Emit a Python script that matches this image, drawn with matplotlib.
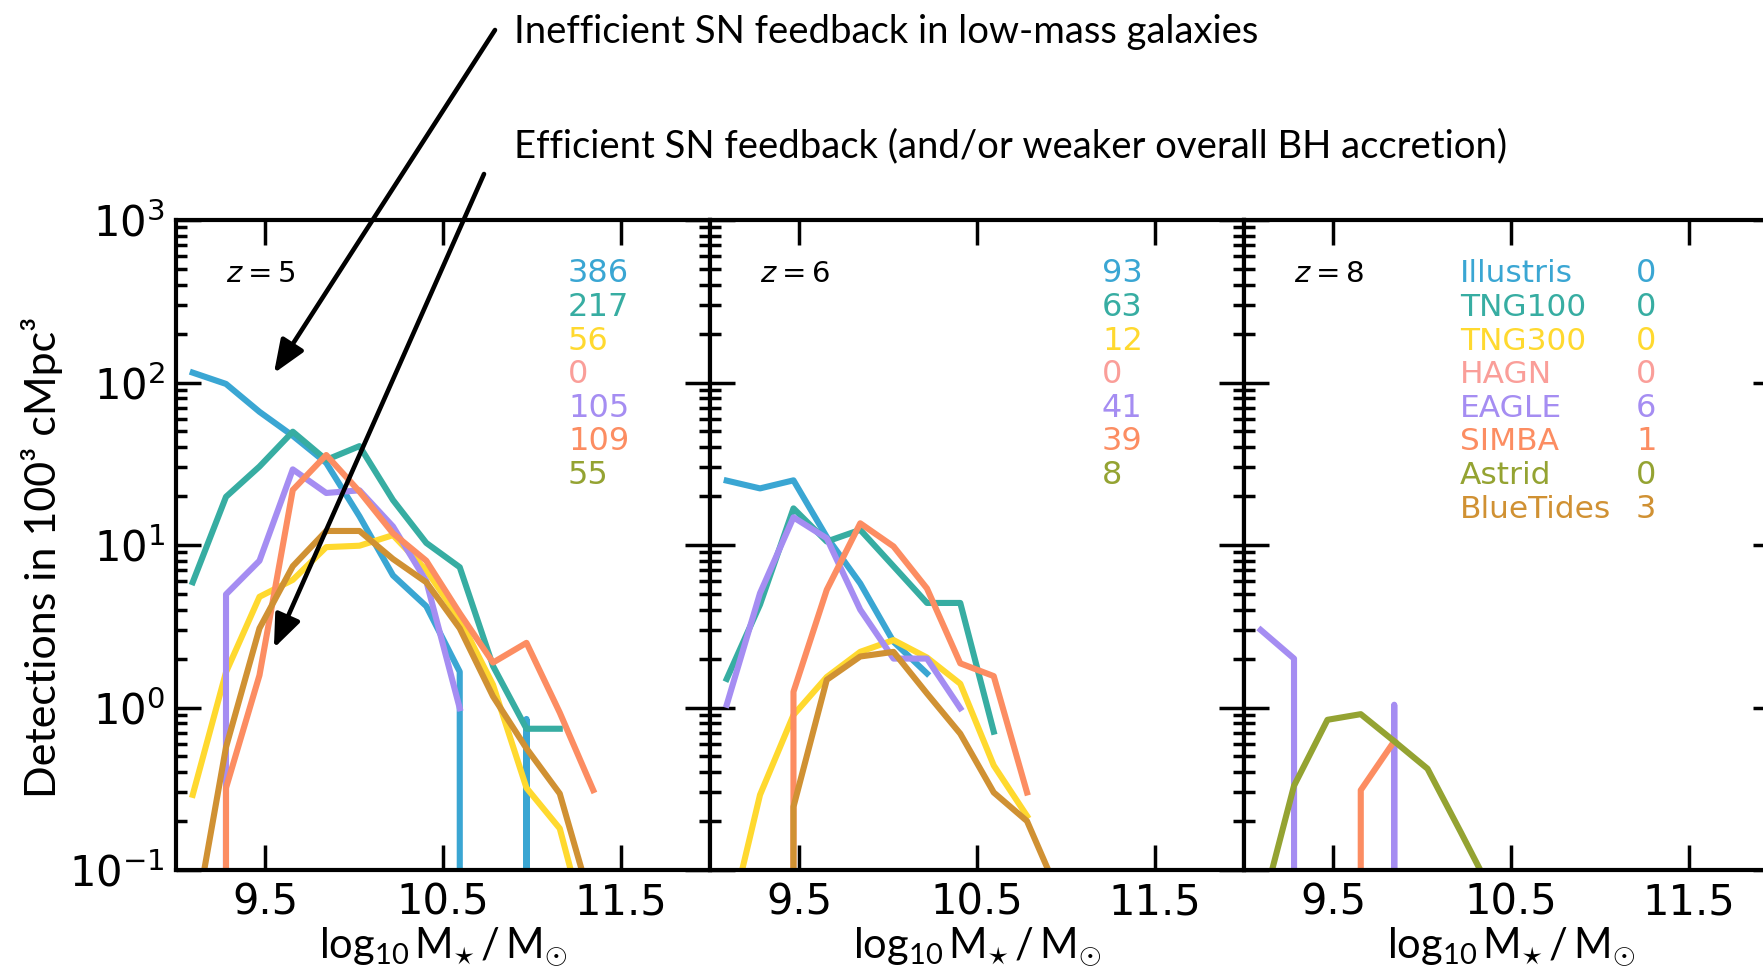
import numpy as np
import matplotlib
matplotlib.use("Agg")
import matplotlib.pyplot as plt
from matplotlib.ticker import LogLocator, NullFormatter, FixedLocator, FixedFormatter

nan = np.nan

# ---------------- data ----------------
sims = ["Illustris", "TNG100", "TNG300", "HAGN", "EAGLE", "SIMBA", "Astrid", "BlueTides"]
colors = ["#3AA6D3", "#37ADA2", "#FFD92F", "#FA9E99", "#A58DF2", "#FC8D62", "#94A332", "#D09133"]

logm = [9.094, 9.281, 9.469, 9.656, 9.844, 10.031, 10.219, 10.406, 10.594, 10.781, 10.969, 11.156, 11.344]

# z = 5
z5_illustris = [115, 98, 66, 47, 32, 15, 6.5, 4.2, 1.66, 0, 0.85, 0, nan]
z5_tng100 = [5.9, 19.8, 30.4, 49.8, 33.4, 40.6, 18.9, 10.3, 7.3, 1.8, 0.74, 0.74, nan]
z5_tng300 = [0.29, 1.65, 4.8, 6.1, 9.7, 9.9, 11.5, 7.0, 3.5, 1.38, 0.32, 0.18, 0.03]
z5_eagle = [0, 4.97, 8.0, 29.2, 20.9, 21.7, 13.0, 6.0, 0.99, nan, nan, nan, nan]
z5_simba = [0, 0.32, 1.58, 21.8, 35.8, 21.3, 11.8, 8.0, 3.8, 1.89, 2.5, 0.93, 0.31]
z5_bluetides = [0.04, 0.57, 3.07, 7.4, 12.2, 12.2, 8.2, 5.9, 3.07, 1.17, 0.56, 0.295, 0.057]

# z = 6
z6_illustris = [24.9, 22.3, 25.0, 11.2, 5.8, 2.54, 1.62, nan, nan, nan, nan, nan, nan]
z6_tng100 = [1.5, 4.3, 16.8, 10.5, 12.4, 7.4, 4.4, 4.4, 0.71, nan, nan, nan, nan]
z6_tng300 = [0.04, 0.29, 0.9, 1.54, 2.2, 2.6, 2.03, 1.4, 0.44, 0.215, nan, nan, nan]
z6_eagle = [1.04, 5.05, 14.8, 11.0, 4.0, 2.0, 2.0, 0.99, nan, nan, nan, nan, nan]
z6_simba = [0, 0, 1.25, 5.3, 13.6, 9.8, 5.4, 1.87, 1.56, 0.30, nan, nan, nan]
z6_bluetides = [0, 0, 0.245, 1.48, 2.06, 2.2, 1.22, 0.69, 0.30, 0.20, 0.067, nan, nan]

# z = 8
z8_eagle = [3.0, 2.0, 0, 0, 1.04, 0, 0, nan, nan, nan, nan, nan, nan]
z8_simba = [0, 0, 0, 0.31, 0.62, nan, nan, nan, nan, nan, nan, nan, nan]
z8_astrid = [0.054, 0.33, 0.84, 0.91, 0.62, 0.42, 0.17, 0.068, nan, nan, nan, nan, nan]

counts_z5 = [386, 217, 56, 0, 105, 109, 55]
counts_z6 = [93, 63, 12, 0, 41, 39, 8]
counts_z8 = [0, 0, 0, 0, 6, 1, 0, 3]

redshift_labels = ["$z = 5$", "$z = 6$", "$z = 8$"]
xtick_vals = [9.5, 10.5, 11.5]
xtick_labels = ["9.5", "10.5", "11.5"]

annot_top = "Inefficient SN feedback in low-mass galaxies"
annot_bot = "Efficient SN feedback (and/or weaker overall BH accretion)"

# ---------------- figure ----------------
plt.rcParams["mathtext.rm"] = "Lato"
plt.rcParams["mathtext.it"] = "Lato:italic"
plt.rcParams["mathtext.bf"] = "Lato:bold"

W, H = 1763, 967
fig = plt.figure(figsize=(W / 100, H / 100), dpi=100)

left0, pw, bot_px, top_px = 176, 534, 870, 220
panels = [
    {"illustris": z5_illustris, "tng100": z5_tng100, "tng300": z5_tng300,
     "eagle": z5_eagle, "simba": z5_simba, "bluetides": z5_bluetides},
    {"illustris": z6_illustris, "tng100": z6_tng100, "tng300": z6_tng300,
     "eagle": z6_eagle, "simba": z6_simba, "bluetides": z6_bluetides},
    {"eagle": z8_eagle, "simba": z8_simba, "astrid": z8_astrid},
]
key_to_idx = {"illustris": 0, "tng100": 1, "tng300": 2, "hagn": 3,
              "eagle": 4, "simba": 5, "astrid": 6, "bluetides": 7}
counts = [counts_z5, counts_z6, counts_z8]

axes = []
for i in range(3):
    ax = fig.add_axes([(left0 + i * pw) / W, (H - bot_px) / H, pw / W, (bot_px - top_px) / H])
    axes.append(ax)
    ax.set_yscale("log")
    for key in ["illustris", "tng100", "tng300", "hagn", "eagle", "simba", "astrid", "bluetides"]:
        if key in panels[i]:
            k = key_to_idx[key]
            ax.plot(logm, panels[i][key], color=colors[k], lw=4.4)
    ax.set_xlim(9.0, 12.0)
    ax.set_ylim(0.1, 1000)
    ax.xaxis.set_major_locator(FixedLocator(xtick_vals))
    ax.xaxis.set_major_formatter(FixedFormatter(xtick_labels))
    ax.yaxis.set_major_locator(LogLocator(base=10, numticks=10))
    ax.yaxis.set_minor_locator(LogLocator(base=10, subs=np.arange(2, 10), numticks=20))
    ax.yaxis.set_minor_formatter(NullFormatter())
    ax.tick_params(which="both", direction="in", top=True, right=True, width=2.5)
    ax.tick_params(which="major", length=18, labelsize=30, pad=8)
    ax.tick_params(which="minor", length=8)
    if i > 0:
        ax.tick_params(labelleft=False)
    for sp in ax.spines.values():
        sp.set_linewidth(3)

    ax.set_xlabel(r"$\mathrm{log}_{10}\,\mathrm{M}_{\star}\,/\,\mathrm{M}_{\odot}$",
                  fontsize=30, math_fontfamily="custom", labelpad=2)

    row0 = (bot_px - 274) / (bot_px - top_px)
    step = 33.6 / (bot_px - top_px)
    ax.text(0.094, row0, redshift_labels[i], transform=ax.transAxes, fontsize=21, va="center")
    for j, c in enumerate(counts[i]):
        ax.text(0.734, row0 - j * step, str(c), transform=ax.transAxes, fontsize=23,
                va="center", color=colors[j])
    if i == 2:
        for j, name in enumerate(sims):
            ax.text(0.4040, row0 - j * step, name, transform=ax.transAxes, fontsize=22.5,
                    va="center", color=colors[j])

fig.text(42 / W, 1 - 557 / H, "Detections in 100\u00b3 cMpc\u00b3", rotation=90,
         ha="center", va="center", fontsize=31, family="Lato")

fig.text(514 / W, 1 - 43 / H, annot_top, fontsize=27.5, family="Lato", va="baseline")
fig.text(514 / W, 1 - 157 / H, annot_bot, fontsize=27.5, family="Lato", va="baseline")

arrow_kw = dict(arrowstyle="-|>,head_length=0.5,head_width=0.2", color="k", lw=3.3,
                mutation_scale=40, shrinkA=0, shrinkB=0)
axes[0].annotate("", xy=(9.55, 114), xycoords="data", xytext=(495 / W, 1 - 30 / H),
                 textcoords="figure fraction", arrowprops=arrow_kw, annotation_clip=False)
axes[0].annotate("", xy=(9.55, 2.32), xycoords="data", xytext=(484 / W, 1 - 174 / H),
                 textcoords="figure fraction", arrowprops=arrow_kw, annotation_clip=False)

fig.savefig("out.png", dpi=100)
